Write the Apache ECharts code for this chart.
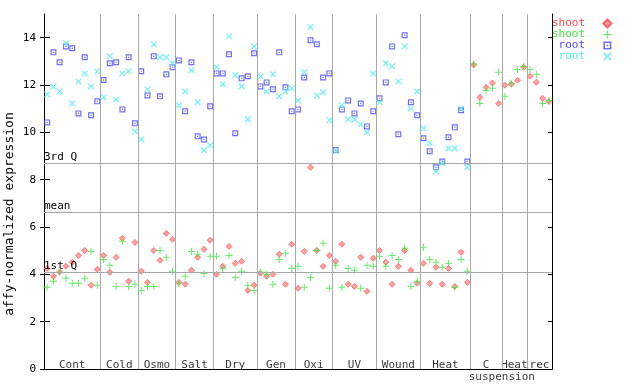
<!DOCTYPE html>
<html><head><meta charset="utf-8">
<script src="https://cdn.jsdelivr.net/npm/echarts@6/dist/echarts.min.js"></script>
<style>html,body{margin:0;padding:0;background:#fff}#c{width:640px;height:384px}</style>
</head><body><div id="c"></div>
<script>
// ---- data ----
const groupNames = ['Cont','Cold','Osmo','Salt','Dry','Gen','Oxi','UV','Wound','Heat','C','Heat','rec'];
const groupSizes = [9,6,6,6,7,6,6,7,7,8,5,4,4];
const subLabel = 'suspension';      // second line under the 'C' group
const subLabelGroup = 10;
const yTicks = [0,2,4,6,8,10,12,14];
const refNames = ['3rd Q','mean','1st Q'];
const refValues = [8.68, 6.62, 4.09];

const shootRed = [4.25,3.92,4.10,4.34,4.51,4.80,5.01,3.54,4.21,
  4.80,4.09,4.72,5.52,3.71,5.35,
  4.13,3.66,5.01,4.59,5.73,5.48,
  3.66,3.58,4.17,4.72,5.06,5.44,
  4.00,4.34,5.18,4.47,4.55,3.32,3.54,
  4.05,3.92,4.00,4.85,3.58,5.27,
  3.41,4.97,8.52,5.01,4.34,4.80,
  4.55,5.27,3.58,3.49,4.72,3.28,4.68,
  5.01,4.51,3.58,4.34,5.01,4.17,3.62,
  4.47,3.62,4.30,3.58,4.25,3.49,4.93,3.66,
  12.85,11.48,11.90,12.08,11.22,
  11.99,12.03,12.20,12.75,
  12.37,12.12,11.44,11.30];
const shootGreen = [3.45,3.71,4.09,3.83,3.62,3.62,3.83,4.97,3.54,
  4.63,4.38,3.49,5.40,3.49,3.58,
  3.32,3.49,3.49,5.01,4.72,4.13,
  3.62,3.92,4.97,4.85,4.04,4.76,
  4.76,4.25,4.80,3.87,4.13,3.54,3.32,
  4.09,4.00,3.58,4.63,4.89,4.25,
  4.34,3.45,3.87,5.01,5.31,3.41,
  4.38,3.45,4.25,4.17,3.41,4.38,4.34,
  4.76,4.34,4.80,4.63,5.10,3.49,3.71,
  5.14,4.63,4.51,4.30,4.47,3.45,4.63,4.13,
  12.89,11.22,11.77,11.86,12.54,
  11.52,12.07,12.66,12.79,
  12.66,12.45,11.22,11.35];
const rootBlue = [10.42,13.38,12.96,13.63,13.55,10.80,13.17,10.72,11.31,
  12.21,12.92,12.96,10.97,13.17,10.38,
  12.58,11.56,13.21,11.52,12.45,12.75,
  13.04,10.89,12.96,9.83,9.70,11.10,
  12.49,12.49,13.30,9.96,12.28,12.37,13.34,
  11.94,12.11,11.82,13.38,11.90,10.89,
  10.97,12.32,13.89,13.72,12.32,12.49,
  9.25,10.97,11.35,10.80,11.22,10.25,10.89,
  11.44,12.11,13.63,9.92,14.10,11.27,10.72,
  9.75,9.20,8.52,8.77,9.79,10.21,10.93,8.77];
const rootCyan = [11.60,11.94,11.73,13.76,11.22,12.15,12.49,11.94,12.58,
  11.48,13.21,11.39,12.49,12.58,10.04,
  9.70,11.82,13.72,13.17,13.17,12.92,
  11.14,11.73,12.62,11.27,9.24,9.45,
  12.75,12.03,14.06,12.41,11.94,10.55,13.63,
  12.37,11.73,12.45,11.52,11.73,11.86,
  11.35,12.54,14.44,11.56,11.69,10.51,
  9.20,11.14,10.55,10.55,10.34,10.00,12.49,
  11.27,12.92,12.79,12.15,13.63,11.01,11.73,
  10.17,9.54,8.35,8.69,9.32,9.32,11.01,8.52];

// ---- build ----
const FONT = 'DejaVu Sans Mono';
const nSamples = groupSizes.reduce((a,b)=>a+b,0);
const starts = [];
groupSizes.reduce((acc,s)=>{starts.push(acc);return acc+s;},0);
const toPts = arr => arr.map((v,i)=>[i+0.5, v]);

const PLUS = 'path://M3,0H4V3H7V4H4V7H3V4H0V3H3Z';
const CROSS = 'path://M0,0H1L3.5,2.5L6,0H7V1L4.5,3.5L7,6V7H6L3.5,4.5L1,7H0V6L2.5,3.5L0,1Z';
const SQUARE = 'path://M0,0H5V5H0Z M1,1V4H4V1Z M2,2H3V3H2Z';

const C_RED = '#ff4848', C_GREEN = '#3ee83e', C_BLUE = '#4848ff', C_CYAN = '#4cf0f0';

const labelData = groupNames.map((g,k)=>({name:g, value:[starts[k]+groupSizes[k]/2, 0.17]}));
labelData.push({name: subLabel, value:[starts[subLabelGroup]+groupSizes[subLabelGroup], -0.34]});

const sepLines = starts.slice(1).map(s=>({xAxis:s, label:{show:false}}));
const refLines = refNames.map((n,k)=>({yAxis:refValues[k], name:n,
  label:{show:true, formatter:n, position:'insideStartTop', distance:[0,1],
    fontFamily:FONT, fontSize:11, color:'#000'}}));

const legendText = {'shoot':'shoot','shoot\u200b':'shoot','root':'root','root\u200b':'root'};

const chart = echarts.init(document.getElementById('c'), null, {renderer:'canvas'});
const yBase = {type:'value', min:0, max:15, splitLine:{show:false}};
chart.setOption({
  animation:false,
  backgroundColor:'#fff',
  grid:{left:44, right:88, top:14, bottom:15, containLabel:false},
  xAxis:[
    {type:'value', min:0, max:nSamples, position:'bottom',
     axisLine:{lineStyle:{color:'#000', width:1}}, axisTick:{show:false},
     axisLabel:{show:false}, splitLine:{show:false}},
    {type:'value', min:0, max:nSamples, position:'top',
     axisLine:{lineStyle:{color:'#000', width:1}}, axisTick:{show:false},
     axisLabel:{show:false}, splitLine:{show:false}}
  ],
  yAxis:[
    Object.assign({}, yBase, {position:'left',
      axisLine:{show:true, lineStyle:{color:'#000'}},
      axisTick:{show:true, length:4, lineStyle:{color:'#000'}, customValues:yTicks},
      axisLabel:{fontFamily:FONT, fontSize:11, color:'#000', margin:8, customValues:yTicks}}),
    Object.assign({}, yBase, {position:'left',
      axisLine:{show:false},
      axisTick:{show:true, inside:true, length:6, lineStyle:{color:'#000'}, customValues:yTicks},
      axisLabel:{show:false}}),
    Object.assign({}, yBase, {position:'right',
      axisLine:{show:true, lineStyle:{color:'#000'}},
      axisTick:{show:true, inside:true, length:4, lineStyle:{color:'#000'}, customValues:yTicks},
      axisLabel:{show:false}})
  ],
  legend:{
    orient:'vertical', left:552, top:18, padding:0, itemGap:0, align:'right',
    itemWidth:8, itemHeight:8, selectedMode:false,
    textStyle:{fontFamily:FONT, fontSize:11, lineHeight:11},
    formatter: n => legendText[n].padStart(5,' ') + '  ',
    data:[
      {name:'shoot', textStyle:{color:C_RED}},
      {name:'shoot\u200b', textStyle:{color:C_GREEN}},
      {name:'root', textStyle:{color:C_BLUE}},
      {name:'root\u200b', textStyle:{color:C_CYAN}}
    ]
  },
  graphic:[{type:'text', x:10, y:214, rotation:Math.PI/2,
    style:{text:'affy-normalized expression', font:'13px "DejaVu Sans Mono"', fill:'#000',
      align:'center', verticalAlign:'middle'}}],
  series:[
    {type:'scatter', name:'labels', z:1, clip:false, silent:true,
     symbolSize:1, itemStyle:{color:'rgba(0,0,0,0)'},
     label:{show:true, position:'inside', formatter:'{b}', fontFamily:FONT, fontSize:11, color:'#000'},
     data:labelData,
     markLine:{silent:true, symbol:['none','none'], animation:false,
       lineStyle:{color:'#a8a8a8', type:'solid', width:1},
       data: sepLines.concat(refLines)}},
    {type:'scatter', name:'shoot', z:2, symbol:'diamond', symbolSize:6,
     itemStyle:{color:'#ff8a8a', borderColor:C_RED, borderWidth:0.8}, data:toPts(shootRed)},
    {type:'scatter', name:'shoot\u200b', z:3, symbol:PLUS, symbolSize:7, symbolKeepAspect:true,
     itemStyle:{color:C_GREEN}, data:toPts(shootGreen)},
    {type:'scatter', name:'root', z:4, symbol:SQUARE, symbolSize:6, symbolKeepAspect:true,
     itemStyle:{color:C_BLUE}, data:toPts(rootBlue)},
    {type:'scatter', name:'root\u200b', z:5, symbol:CROSS, symbolSize:6, symbolKeepAspect:true,
     itemStyle:{color:C_CYAN}, data:toPts(rootCyan)}
  ]
});
</script></body></html>
